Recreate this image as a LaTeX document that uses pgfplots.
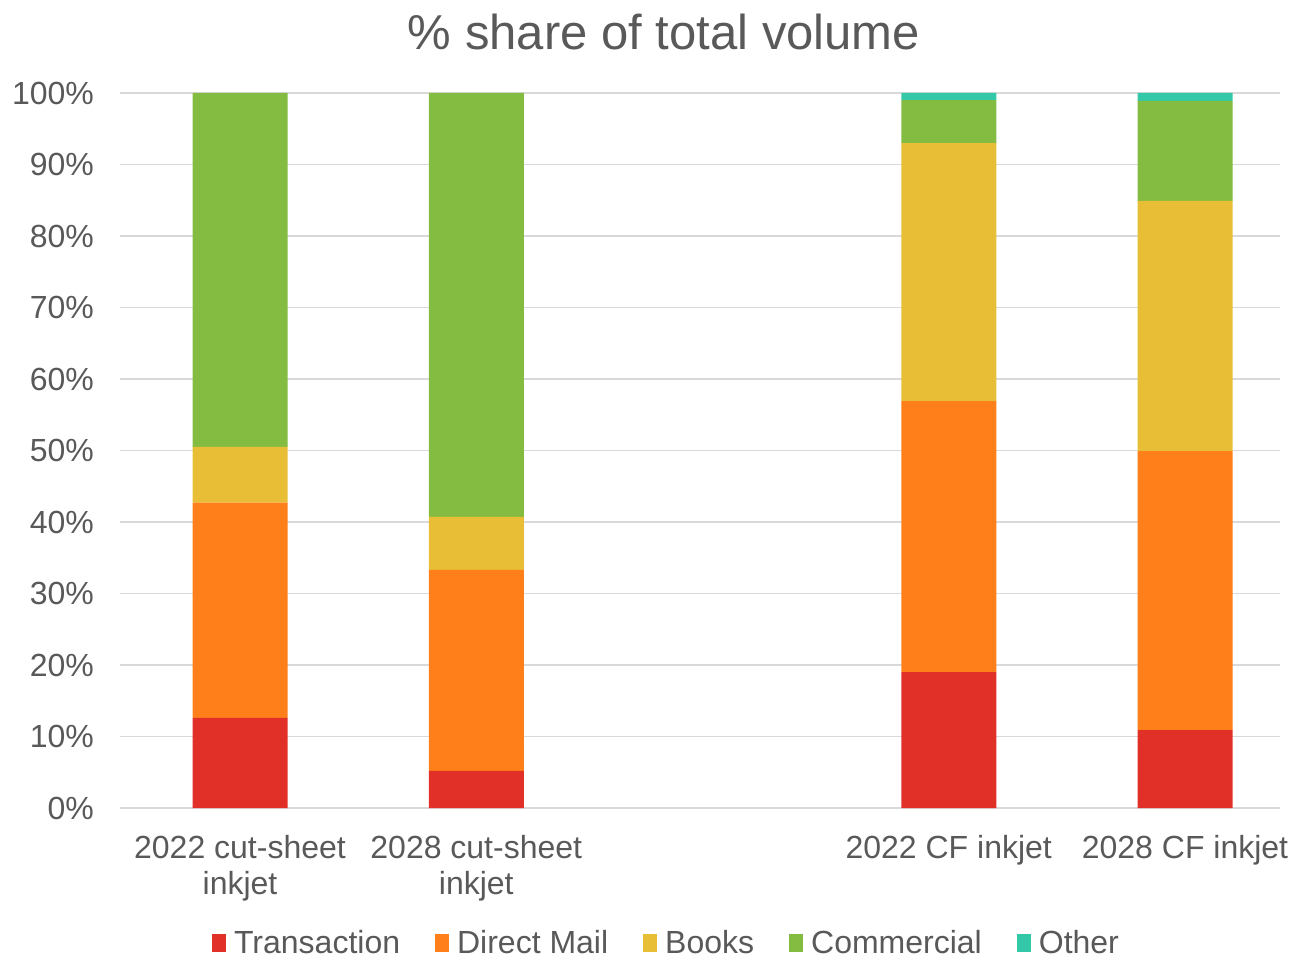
\documentclass[border=0pt]{standalone}
\usepackage{fontspec}
\setmainfont{Liberation Sans}
\usepackage{pgfplots}
\pgfplotsset{compat=1.18}
\definecolor{ctrans}{HTML}{E03028}
\definecolor{cdm}{HTML}{FF801A}
\definecolor{cbooks}{HTML}{E8BE36}
\definecolor{ccomm}{HTML}{84BC42}
\definecolor{cother}{HTML}{33C8A8}
\definecolor{txt}{HTML}{595959}
\definecolor{gridc}{HTML}{D9D9D9}
\begin{document}
\begin{tikzpicture}
\path[use as bounding box] (-60pt,-75.5pt) rectangle (588pt,404pt);
\begin{axis}[
  scale only axis, width=580pt, height=357.5pt,
  ybar stacked, bar width=47.5pt,
  xmin=-0.508, xmax=4.402, ymin=0, ymax=100,
  xtick={0,1,3,4},
  xticklabels={{2022 cut-sheet\\inkjet},{2028 cut-sheet\\inkjet},{2022 CF inkjet},{2028 CF inkjet}},
  x tick label style={align=center, font=\fontsize{16}{18}\selectfont, text=txt, yshift=-10pt},
  ytick={0,10,...,100},
  yticklabel={\pgfmathprintnumber{\tick}\%},
  y tick label style={font=\fontsize{16}{18}\selectfont, text=txt, xshift=-9.5pt},
  /pgf/number format/assume math mode=true,
  major tick length=0pt,
  ymajorgrids, grid style={gridc, line width=0.75pt},
  axis x line*=bottom, axis y line*=left,
  x axis line style={gridc, line width=0.75pt},
  y axis line style={draw=none},
  title={\% share of total volume},
  title style={font=\fontsize{24.5}{28}\selectfont, text=txt, yshift=12pt, xshift=-18pt},
  legend columns=5,
  legend style={draw=none, font=\fontsize{16}{18}\selectfont, text=txt,
    at={(0.472,-0.189)}, anchor=center,
    /tikz/every odd column/.append style={column sep=2pt},
    /tikz/every even column/.append style={column sep=15.5pt}},
  legend image code/.code={\fill[#1] (-1pt,-4.5pt) rectangle (6pt,4.5pt);},
]
\addplot[fill=ctrans, draw=none] coordinates {(0,12.6) (1,5.2) (3,19.0) (4,10.9)};
\addlegendentry{Transaction}
\addplot[fill=cdm, draw=none] coordinates {(0,30.1) (1,28.1) (3,37.9) (4,39.0)};
\addlegendentry{Direct Mail}
\addplot[fill=cbooks, draw=none] coordinates {(0,7.8) (1,7.4) (3,36.1) (4,35.0)};
\addlegendentry{Books}
\addplot[fill=ccomm, draw=none] coordinates {(0,49.5) (1,59.3) (3,6.0) (4,14.0)};
\addlegendentry{Commercial}
\addplot[fill=cother, draw=none] coordinates {(0,0) (1,0) (3,1.0) (4,1.1)};
\addlegendentry{Other}
\end{axis}
\end{tikzpicture}
\end{document}
